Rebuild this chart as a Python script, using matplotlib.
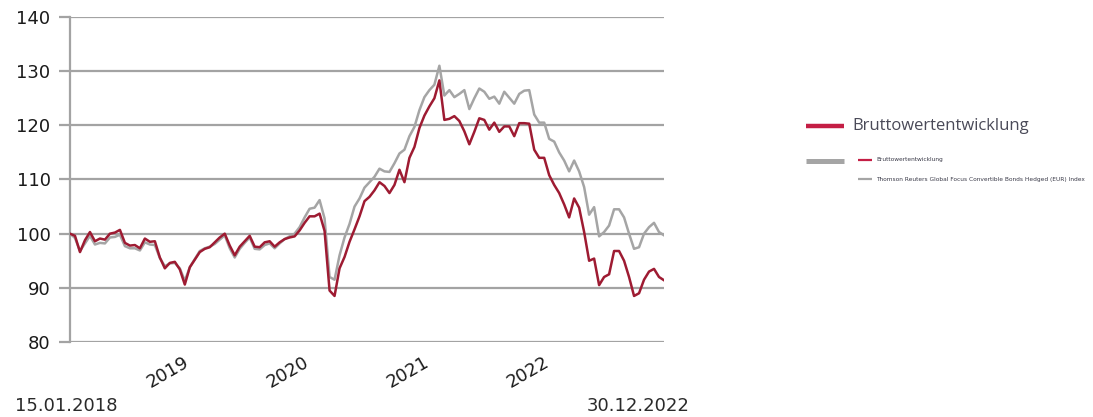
import matplotlib

matplotlib.use("Agg")
import matplotlib.pyplot as plt
import matplotlib.transforms as mtransforms
from matplotlib.lines import Line2D
import pandas as pd


# values, evenly spaced from 15.01.2018 to 30.12.2022
brutto = [
    100, 99.6, 96.6, 98.8, 100.3, 98.6, 99.1, 98.9, 100, 100.2,
    100.7, 98.3, 97.8, 97.9, 97.3, 99.1, 98.5, 98.6, 95.6, 93.6,
    94.6, 94.8, 93.4, 90.6, 93.8, 95.2, 96.6, 97.2, 97.5, 98.4,
    99.3, 100, 97.8, 96, 97.6, 98.6, 99.6, 97.6, 97.5, 98.4,
    98.6, 97.6, 98.4, 99, 99.3, 99.5, 100.6, 102, 103.2, 103.2,
    103.7, 100.5, 89.5, 88.5, 93.6, 95.7, 98.5, 100.8, 103.2, 106,
    106.8, 108, 109.5, 108.8, 107.5, 109, 111.8, 109.5, 114, 116,
    119.5, 121.8, 123.5, 125, 128.3, 121, 121.2, 121.7, 120.8, 118.9,
    116.5, 118.8, 121.3, 121, 119.2, 120.5, 118.8, 119.8, 119.8, 118,
    120.4, 120.4, 120.3, 115.5, 114, 114, 110.8, 109, 107.5, 105.4,
    103, 106.5, 104.8, 100.3, 95, 95.4, 90.5, 92, 92.5, 96.8,
    96.8, 95, 92, 88.5, 89, 91.5, 93, 93.5, 92, 91.4,
]
index_tr = [
    100, 99.2, 96.8, 98.2, 99.6, 98.0, 98.3, 98.2, 99.3, 99.4,
    99.8, 97.7, 97.3, 97.3, 96.9, 98.4, 98.0, 97.9, 95.5, 94.0,
    94.5, 94.6, 93.6, 91.3, 93.8, 95.3, 96.8, 97.3, 97.6, 98.1,
    98.9, 99.7, 97.3, 95.6, 97.2, 98.3, 99.3, 97.2, 97.1, 97.9,
    98.2, 97.3, 98.2, 99.0, 99.5, 100, 101.2, 103, 104.6, 104.8,
    106.2, 102.8, 92, 91.5, 96, 99.3, 101.8, 105, 106.5, 108.5,
    109.5, 110.5, 112, 111.5, 111.4, 113, 114.8, 115.5, 118, 119.7,
    122.8, 125.2, 126.5, 127.5, 131, 125.5, 126.5, 125.2, 125.8, 126.5,
    123, 125, 126.8, 126.2, 124.9, 125.3, 124, 126.2, 125.1, 124,
    125.8, 126.4, 126.5, 122, 120.5, 120.5, 117.5, 117, 115, 113.5,
    111.5, 113.5, 111.5, 108.6, 103.5, 104.9, 99.5, 100.3, 101.5, 104.5,
    104.5, 103, 100, 97.2, 97.5, 100, 101.2, 102, 100.3, 99.7,
]
start_label = "15.01.2018"
end_label = "30.12.2022"
year_ticks = ["2019", "2020", "2021", "2022"]
y_ticks = [80, 90, 100, 110, 120, 130, 140]
legend_big = "Bruttowertentwicklung"
legend_small = ["Bruttowertentwicklung",
                "Thomson Reuters Global Focus Convertible Bonds Hedged (EUR) Index"]

RED = "#9e1b32"
LEGEND_RED = "#c41e45"
GRAY = "#a5a5a5"
GRID = "#a3a3a3"


def main():
    dates = pd.date_range("2018-01-15", "2022-12-30", periods=len(brutto))

    fig = plt.figure(figsize=(10.93, 4.17), dpi=100)
    ax = fig.add_axes([70 / 1093, 1 - 342 / 417, 594 / 1093, 325 / 417])

    ax.plot(dates, index_tr, color=GRAY, lw=1.8, zorder=3)
    ax.plot(dates, brutto, color=RED, lw=1.8, zorder=4)

    ax.set_xlim(dates[0], dates[-1])
    ax.set_ylim(80, 140)
    ax.set_yticks(y_ticks)
    ax.set_yticklabels([str(v) for v in y_ticks], fontsize=13, color="#1a1a1a")
    ax.yaxis.grid(True, color=GRID, lw=1.6)
    ax.tick_params(axis="y", length=8, width=1.6, color=GRID, pad=6)
    ax.set_axisbelow(True)
    for name in ["top", "right", "bottom"]:
        ax.spines[name].set_visible(False)
    ax.spines["left"].set_color(GRID)
    ax.spines["left"].set_linewidth(1.6)

    ax.set_xticks([pd.Timestamp(y + "-01-01") for y in year_ticks])
    ax.set_xticklabels(year_ticks, rotation=30, ha="right", fontsize=13, color="#1a1a1a")
    ax.tick_params(axis="x", length=0, pad=8)
    offset = mtransforms.ScaledTranslation(7 / 100, 0, fig.dpi_scale_trans)
    for lab in ax.get_xticklabels():
        lab.set_transform(lab.get_transform() + offset)

    fig.text(15 / 1093, 1 - 406 / 417, start_label, fontsize=13, color="#2a2a2a", va="center", ha="left")
    fig.text(690 / 1093, 1 - 406 / 417, end_label, fontsize=13, color="#2a2a2a", va="center", ha="right")

    # hand-built legend, same layout as the reference
    def hline(x0, x1, y, color, lw):
        fig.add_artist(Line2D([x0 / 1093, x1 / 1093], [1 - y / 417, 1 - y / 417],
                              transform=fig.transFigure, color=color, lw=lw, solid_capstyle="butt"))

    hline(806, 844, 126, LEGEND_RED, 3.2)
    fig.text(852 / 1093, 1 - 126 / 417, legend_big, fontsize=12, color="#4a4a58",
             family="Open Sans", va="center", ha="left")
    hline(806, 844, 161, GRAY, 3.6)
    hline(858, 872, 160, LEGEND_RED, 1.6)
    hline(858, 872, 179, GRAY, 1.6)
    fig.text(876 / 1093, 1 - 160 / 417, legend_small[0], fontsize=4.2, color="#3a3a48",
             family="DejaVu Sans", va="center", ha="left")
    fig.text(876 / 1093, 1 - 179 / 417, legend_small[1], fontsize=4.2, color="#3a3a48",
             family="DejaVu Sans", va="center", ha="left")

    fig.savefig("out.png", dpi=100)
    plt.close(fig)


if __name__ == "__main__":
    main()
